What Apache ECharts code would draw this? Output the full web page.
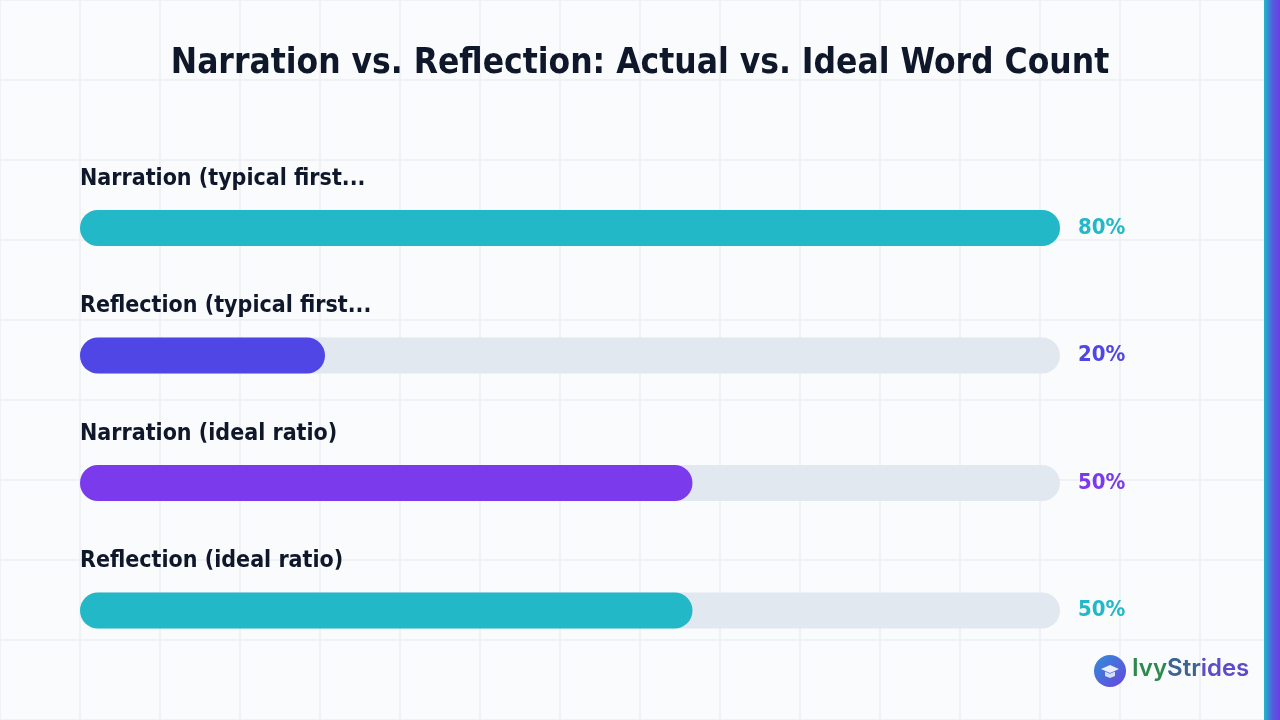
<!DOCTYPE html>
<html>
<head>
<meta charset="utf-8">
<script src="https://cdn.jsdelivr.net/npm/echarts@6/dist/echarts.min.js"></script>
<style>
  html, body { margin: 0; padding: 0; }
  body {
    width: 1280px; height: 720px; overflow: hidden;
    background-color: #fafbfc;
    background-image:
      linear-gradient(#eff1f4 2px, transparent 2px),
      linear-gradient(90deg, #eff1f4 2px, transparent 2px);
    background-size: 80px 80px;
    background-position: -1px -1px;
  }
  #chart { width: 1280px; height: 720px; }
</style>
</head>
<body>
<div id="chart"></div>
<script>
const titleText = 'Narration vs. Reflection: Actual vs. Ideal Word Count';
const categories = ['Narration (typical first...', 'Reflection (typical first...', 'Narration (ideal ratio)', 'Reflection (ideal ratio)'];
const values = [80, 20, 50, 50];
const barColors = ['#22b8c8', '#4f46e5', '#7c3aed', '#22b8c8'];
const axisMax = 80;
const brandParts = ['Ivy', 'Str', 'ides'];

const condensed = '"Liberation Sans Narrow", "DejaVu Sans Condensed", sans-serif';

const chart = echarts.init(document.getElementById('chart'), null, { renderer: 'canvas' });
chart.setOption({
  animation: false,
  backgroundColor: 'transparent',
  title: {
    text: titleText,
    left: 'center',
    top: 41,
    textStyle: { fontFamily: condensed, fontWeight: 'bold', fontSize: 35, color: '#0f172a' }
  },
  grid: { left: 80, right: 220, top: 164.25, bottom: 45.75, containLabel: false },
  xAxis: { type: 'value', min: 0, max: axisMax, show: false },
  yAxis: [
    {
      type: 'category', data: categories, inverse: true,
      axisLine: { show: false }, axisTick: { show: false }, axisLabel: { show: false }, splitLine: { show: false }
    },
    {
      type: 'category', data: categories, inverse: true, position: 'right',
      axisLine: { show: false }, axisTick: { show: false }, splitLine: { show: false },
      axisLabel: {
        margin: 18, align: 'left',
        fontFamily: condensed, fontSize: 22, fontWeight: 'bold',
        formatter: (v, i) => values[i] + '%',
        color: (v, i) => barColors[i]
      }
    }
  ],
  series: [{
    type: 'bar',
    yAxisIndex: 0,
    barWidth: 36,
    data: values.map((v, i) => ({ value: v, itemStyle: { color: barColors[i] } })),
    itemStyle: { borderRadius: 18 },
    showBackground: true,
    backgroundStyle: { color: '#e2e8f0', borderRadius: 18 },
    label: {
      show: true,
      position: [0, -31],
      align: 'left',
      verticalAlign: 'middle',
      formatter: p => p.name,
      fontFamily: condensed, fontWeight: 'bold', fontSize: 23, color: '#0f172a'
    }
  }],
  graphic: [
    {
      type: 'rect', right: 0, top: 0,
      shape: { width: 16, height: 720 },
      style: { fill: new echarts.graphic.LinearGradient(0, 0, 1, 0, [
        { offset: 0, color: '#1fb8c9' }, { offset: 0.5, color: '#4f62e0' }, { offset: 1, color: '#6d3be6' }
      ]) }
    },
    {
      type: 'group', left: 1094, top: 655,
      children: [
        { type: 'circle', shape: { cx: 16, cy: 16, r: 16 },
          style: { fill: new echarts.graphic.LinearGradient(0, 0, 1, 1, [
            { offset: 0, color: '#2f8fd8' }, { offset: 1, color: '#6a44e0' }
          ]) } },
        { type: 'polygon', shape: { points: [[7, 14], [16, 10], [25, 14], [16, 18]] }, style: { fill: '#e8eefc' } },
        { type: 'polygon', shape: { points: [[11, 16.5], [16, 18.7], [21, 16.5], [21, 21], [16, 23], [11, 21]] }, style: { fill: '#d5def5' } }
      ]
    },
    {
      type: 'text', left: 1132, top: 657,
      style: {
        text: '{a|' + brandParts[0] + '}{b|' + brandParts[1] + '}{c|' + brandParts[2] + '}',
        fontFamily: 'Inter, Roboto, sans-serif', fontWeight: 600, fontSize: 24,
        rich: {
          a: { fontFamily: 'Inter, Roboto, sans-serif', fontWeight: 600, fontSize: 24, fill: '#2f8a4e', color: '#2f8a4e' },
          b: { fontFamily: 'Inter, Roboto, sans-serif', fontWeight: 600, fontSize: 24, fill: '#3d6390', color: '#3d6390' },
          c: { fontFamily: 'Inter, Roboto, sans-serif', fontWeight: 600, fontSize: 24, fill: '#5e4bc9', color: '#5e4bc9' }
        }
      }
    }
  ]
});
</script>
</body>
</html>
